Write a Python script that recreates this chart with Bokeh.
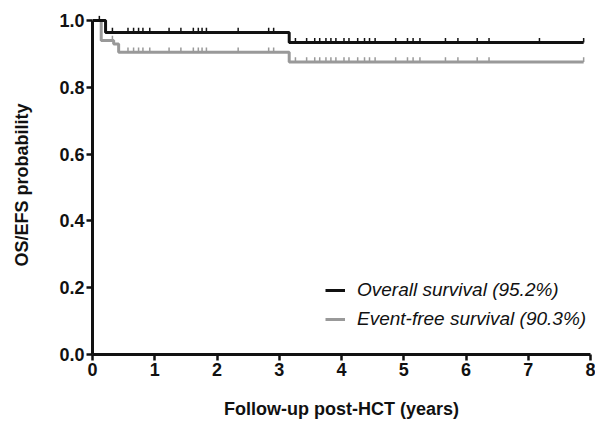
import numpy as np
from bokeh.plotting import figure
from bokeh.models import Range1d, FixedTicker, NumeralTickFormatter, Legend, LegendItem, ColumnDataSource
from bokeh.embed import file_html
from bokeh.resources import INLINE

# Kaplan-Meier step data (years, survival probability)
os_times = [0.0, 0.21, 3.16, 7.89]
os_surv = [1.0, 0.964, 0.934, 0.934]
efs_times = [0.0, 0.14, 0.34, 0.42, 3.16, 7.89]
efs_surv = [1.0, 0.94, 0.93, 0.905, 0.876, 0.876]

# censoring times (years)
os_censor = [0.11, 0.32, 0.57, 0.66, 0.74, 0.81, 0.92, 1.23, 1.42, 1.62, 1.70, 1.76, 1.83,
             2.34, 2.83, 2.91, 3.26, 3.44, 3.57, 3.65, 3.75, 3.83, 3.91, 4.04, 4.12, 4.26,
             4.37, 4.45, 4.54, 4.87, 5.06, 5.15, 5.26, 5.67, 5.87, 6.18, 6.37, 7.18, 7.89]
efs_censor = [0.32, 0.57, 0.66, 0.74, 0.81, 0.92, 1.23, 1.42, 1.62, 1.70, 1.76, 1.83,
              2.34, 2.83, 2.91, 3.26, 3.44, 3.57, 3.65, 3.75, 3.83, 3.91, 4.04, 4.12, 4.26,
              4.37, 4.45, 4.54, 4.87, 5.06, 5.15, 5.26, 5.67, 5.87, 6.18, 6.37, 7.89]

labels = ["Overall survival (95.2%)", "Event-free survival (90.3%)"]
x_ticks = [0, 1, 2, 3, 4, 5, 6, 7, 8]
y_ticks = [0.0, 0.2, 0.4, 0.6, 0.8, 1.0]

BLACK = "#111111"
GRAY = "#999999"
FONT = "Liberation Sans"

p = figure(width=595, height=421, output_backend="svg", toolbar_location=None,
           x_range=Range1d(0, 8), y_range=Range1d(0, 1.015),
           min_border_left=92, min_border_right=5, min_border_top=15, min_border_bottom=66)
p.outline_line_color = None
p.grid.visible = False
p.background_fill_color = "white"


def surv_at(times, surv, t):
    idx = np.searchsorted(np.array(times), np.array(t), side="right") - 1
    return np.array(surv)[idx]


efs_line = p.step(efs_times, efs_surv, mode="after", line_color=GRAY, line_width=3)
ys = surv_at(efs_times, efs_surv, efs_censor)
p.segment(x0=efs_censor, y0=ys, x1=efs_censor, y1=ys + 0.014, line_color=GRAY, line_width=1.5)

os_line = p.step(os_times, os_surv, mode="after", line_color=BLACK, line_width=3)
ys = surv_at(os_times, os_surv, os_censor)
p.segment(x0=os_censor, y0=ys, x1=os_censor, y1=ys + 0.014, line_color=BLACK, line_width=1.5)

# legend-only tick markers (no data points)
empty = ColumnDataSource(data=dict(x=[], y=[]))
os_mark = p.scatter("x", "y", source=empty, marker="dash", angle=np.pi / 2, size=7,
                    line_color=BLACK, line_width=1.5)
efs_mark = p.scatter("x", "y", source=empty, marker="dash", angle=np.pi / 2, size=7,
                     line_color=GRAY, line_width=1.5)

for ax in (p.xaxis[0], p.yaxis[0]):
    ax.axis_line_width = 3
    ax.axis_line_color = BLACK
    ax.major_tick_line_width = 2.5
    ax.major_tick_line_color = BLACK
    ax.major_tick_out = 6
    ax.major_tick_in = 0
    ax.minor_tick_line_color = None
    ax.major_label_text_font = FONT
    ax.major_label_text_font_style = "bold"
    ax.major_label_text_font_size = "18px"
    ax.major_label_text_color = BLACK
    ax.axis_label_text_font = FONT
    ax.axis_label_text_font_style = "bold"
    ax.axis_label_text_font_size = "18px"
    ax.axis_label_text_color = BLACK

p.xaxis[0].bounds = (0, 8)
p.yaxis[0].bounds = (0, 1)
p.xaxis[0].ticker = FixedTicker(ticks=x_ticks)
p.yaxis[0].ticker = FixedTicker(ticks=y_ticks)
p.xaxis[0].formatter = NumeralTickFormatter(format="0")
p.yaxis[0].formatter = NumeralTickFormatter(format="0.0")
p.xaxis[0].major_label_standoff = 2
p.yaxis[0].major_label_standoff = 2
p.xaxis[0].axis_label = "Follow-up post-HCT (years)"
p.yaxis[0].axis_label = "OS/EFS probability"
p.xaxis[0].axis_label_standoff = 20
p.yaxis[0].axis_label_standoff = 24

legend = Legend(items=[LegendItem(label=labels[0], renderers=[os_line, os_mark]),
                       LegendItem(label=labels[1], renderers=[efs_line, efs_mark])],
                location=(233, 24))
legend.label_text_font = FONT
legend.label_text_font_style = "italic"
legend.label_text_font_size = "19px"
legend.label_text_color = BLACK
legend.glyph_width = 20
legend.label_standoff = 12
legend.label_height = 22
legend.glyph_height = 22
legend.spacing = 7
legend.padding = 0
legend.margin = 0
legend.border_line_color = None
legend.background_fill_alpha = 0
p.add_layout(legend)

open("out.html", "w").write(file_html(p, INLINE))
